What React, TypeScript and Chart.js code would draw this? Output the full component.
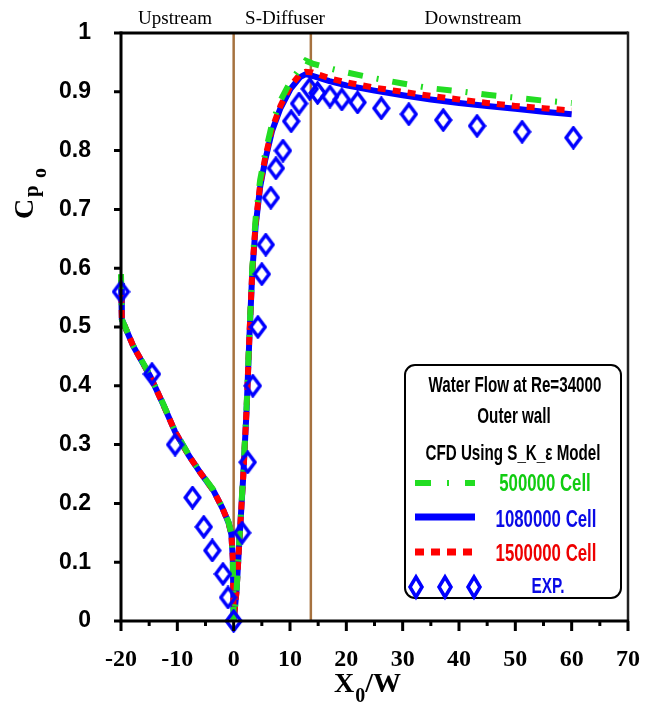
import React, { useEffect, useRef } from "react";
import { Chart, registerables } from "chart.js";

Chart.register(...registerables);

// Axial positions (X0/W) shared by the three CFD grids
const CFD_X = [
  -20, -19.85, -17.8, -14.8, -12.5, -10.4, -8.0, -5.9, -3.6, -2.0, -0.9, -0.4, -0.15, 0,
  0.5, 1.0, 1.7, 2.3, 2.8, 3.3, 3.9, 4.7, 5.6, 6.8, 8.3, 10.1, 11.8, 12.8, 14.0,
  17, 20, 25, 30, 35, 40, 45, 50, 55, 60,
];

// Cpo along the outer wall, 500000 cells
const CP_500K = [
  0.59, 0.513, 0.468, 0.417, 0.369, 0.323, 0.283, 0.253, 0.223, 0.193, 0.168, 0.148, 0.105, 0,
  0.05, 0.136, 0.25, 0.366, 0.49, 0.6, 0.685, 0.75, 0.795, 0.845, 0.885, 0.918, 0.94, 0.953, 0.948,
  0.94, 0.933, 0.923, 0.914, 0.906, 0.901, 0.895, 0.89, 0.885, 0.881,
];

// Cpo along the outer wall, 1080000 cells
const CP_1080K = [
  0.575, 0.513, 0.467, 0.416, 0.368, 0.322, 0.282, 0.252, 0.222, 0.192, 0.167, 0.147, 0.105, 0,
  0.05, 0.134, 0.246, 0.36, 0.484, 0.593, 0.672, 0.738, 0.784, 0.833, 0.872, 0.905, 0.925, 0.93, 0.927,
  0.918, 0.911, 0.902, 0.894, 0.887, 0.881, 0.876, 0.871, 0.866, 0.862,
];

// Cpo along the outer wall, 1500000 cells
const CP_1500K = [
  0.58, 0.513, 0.467, 0.416, 0.368, 0.322, 0.282, 0.252, 0.222, 0.192, 0.167, 0.147, 0.105, 0,
  0.05, 0.134, 0.247, 0.362, 0.486, 0.595, 0.676, 0.742, 0.788, 0.837, 0.876, 0.91, 0.93, 0.934, 0.933,
  0.923, 0.916, 0.907, 0.9, 0.893, 0.887, 0.881, 0.876, 0.872, 0.868,
];

// Measured Cpo (EXP.)
const EXP_X = [
  -20, -14.5, -10.4, -7.3, -5.3, -3.8, -1.9, -1.0, 0, 1.5, 2.5, 3.4, 4.3, 5.0, 5.7, 6.6, 7.5,
  8.75, 10.2, 11.6, 13.5, 14.9, 17.1, 19.2, 22.0, 26.2, 31.1, 37.2, 43.2, 51.2, 60.3,
];
const EXP_Y = [
  0.56, 0.42, 0.3, 0.21, 0.16, 0.12, 0.08, 0.04, 0, 0.15, 0.27, 0.4, 0.5, 0.59, 0.64, 0.72, 0.77,
  0.8, 0.85, 0.88, 0.905, 0.898, 0.892, 0.887, 0.882, 0.872, 0.862, 0.852, 0.842, 0.832, 0.822,
];

// Section boundaries: diffuser inlet and outlet
const SECTION_X = [0, 13.7];
const SECTION_NAMES = ["Upstream", "S-Diffuser", "Downstream"];
const SECTION_LABEL_X = [175, 285, 473];

const LEGEND_HEAD = ["Water Flow at Re=34000", "Outer wall", "CFD Using S_K_\u03b5 Model"];
const SERIES_NAMES = ["500000 Cell", "1080000 Cell", "1500000 Cell", "EXP."];

const GREEN = "#22dd22";
const BLUE = "#0000ff";
const RED = "#ff0000";
const BROWN = "#a6723f";

const SERIF = "'Liberation Serif', 'Times New Roman', serif";
const SANS = "'Liberation Sans', Arial, sans-serif";

function makeDiamond(w: number, h: number, lw: number): HTMLCanvasElement {
  const c = document.createElement("canvas");
  c.width = w;
  c.height = h;
  const g = c.getContext("2d")!;
  g.strokeStyle = BLUE;
  g.lineWidth = lw;
  g.lineJoin = "miter";
  const cx = w / 2;
  const cy = h / 2;
  const hw = w / 2 - lw / 2 - 0.5;
  const hh = h / 2 - lw / 2 - 0.5;
  g.beginPath();
  g.moveTo(cx, cy - hh);
  g.lineTo(cx + hw, cy);
  g.lineTo(cx, cy + hh);
  g.lineTo(cx - hw, cy);
  g.closePath();
  g.stroke();
  return c;
}

function squeezed(
  ctx: CanvasRenderingContext2D,
  text: string,
  cx: number,
  baseline: number,
  font: string,
  color: string,
  sx: number
) {
  ctx.save();
  ctx.font = font;
  ctx.fillStyle = color;
  ctx.textAlign = "center";
  ctx.textBaseline = "alphabetic";
  ctx.translate(cx, baseline);
  ctx.scale(sx, 1);
  ctx.fillText(text, 0, 0);
  ctx.restore();
}

const sectionLines = {
  id: "sectionLines",
  beforeDatasetsDraw(chart: any) {
    const { ctx, chartArea } = chart;
    const xs = chart.scales.x;
    ctx.save();
    ctx.strokeStyle = BROWN;
    ctx.lineWidth = 2.5;
    SECTION_X.forEach((v) => {
      const px = xs.getPixelForValue(v);
      ctx.beginPath();
      ctx.moveTo(px, chartArea.top);
      ctx.lineTo(px, chartArea.bottom);
      ctx.stroke();
    });
    ctx.restore();
  },
};

const frameAndNotes = {
  id: "frameAndNotes",
  afterDraw(chart: any) {
    const { ctx, chartArea } = chart;
    const xs = chart.scales.x;
    const ys = chart.scales.y;
    const { left, right, top, bottom } = chartArea;
    ctx.save();

    // frame: top and right
    ctx.strokeStyle = "#000";
    ctx.lineWidth = 3;
    ctx.beginPath();
    ctx.moveTo(left, top);
    ctx.lineTo(right, top);
    ctx.stroke();
    ctx.strokeStyle = "#222";
    ctx.lineWidth = 2.5;
    ctx.beginPath();
    ctx.moveTo(right, top - 1.5);
    ctx.lineTo(right, bottom);
    ctx.stroke();

    // axes
    ctx.strokeStyle = "#000";
    ctx.lineWidth = 3;
    ctx.beginPath();
    ctx.moveTo(left, top - 1.5);
    ctx.lineTo(left, bottom);
    ctx.moveTo(left - 1.5, bottom);
    ctx.lineTo(right + 1, bottom);
    ctx.stroke();

    // x ticks: majors every 10, minors between
    ctx.beginPath();
    for (let v = -20; v <= 70; v += 5) {
      const px = xs.getPixelForValue(v);
      const len = v % 10 === 0 ? 10 : 5;
      ctx.moveTo(px, bottom);
      ctx.lineTo(px, bottom + len);
    }
    // y ticks every 0.1
    for (let i = 0; i <= 10; i++) {
      const py = ys.getPixelForValue(i / 10);
      ctx.moveTo(left, py);
      ctx.lineTo(left - 7, py);
    }
    ctx.stroke();

    // section names above the frame
    ctx.fillStyle = "#000";
    ctx.font = `19px ${SERIF}`;
    ctx.textAlign = "center";
    ctx.textBaseline = "alphabetic";
    SECTION_NAMES.forEach((s, i) => ctx.fillText(s, SECTION_LABEL_X[i], 24));

    // x axis title: X0/W
    ctx.textAlign = "left";
    ctx.font = `bold 28px ${SERIF}`;
    ctx.fillText("X", 334, 692);
    const wX = ctx.measureText("X").width;
    ctx.font = `bold 20px ${SERIF}`;
    ctx.fillText("0", 334 + wX + 1, 702);
    const w0 = ctx.measureText("0").width;
    ctx.font = `bold 28px ${SERIF}`;
    ctx.fillText("/W", 334 + wX + w0 + 1, 692);

    // y axis title: Cpo (rotated)
    const rot = (t: string, font: string, baseX: number, startY: number) => {
      ctx.save();
      ctx.font = font;
      ctx.translate(baseX, startY);
      ctx.rotate(-Math.PI / 2);
      ctx.fillText(t, 0, 0);
      ctx.restore();
    };
    rot("C", `bold 28px ${SERIF}`, 33, 219);
    rot("p", `bold 21px ${SERIF}`, 38, 197);
    rot("o", `bold 20px ${SERIF}`, 46, 178);

    // legend box
    const bx = 405, by = 365, bw = 216, bh = 233, r = 10;
    ctx.fillStyle = "#fff";
    ctx.strokeStyle = "#000";
    ctx.lineWidth = 2;
    ctx.beginPath();
    ctx.roundRect(bx, by, bw, bh, r);
    ctx.fill();
    ctx.stroke();

    const headFont = `bold 22px ${SANS}`;
    squeezed(ctx, LEGEND_HEAD[0], 515, 392, headFont, "#000", 0.69);
    squeezed(ctx, LEGEND_HEAD[1], 514, 423, headFont, "#000", 0.69);
    squeezed(ctx, LEGEND_HEAD[2], 513, 460, headFont, "#000", 0.69);

    // legend samples
    ctx.lineCap = "butt";
    ctx.lineWidth = 6;
    ctx.strokeStyle = GREEN;
    ctx.setLineDash([16, 16, 2, 16]);
    ctx.beginPath();
    ctx.moveTo(415, 483);
    ctx.lineTo(475, 483);
    ctx.stroke();

    ctx.setLineDash([]);
    ctx.lineWidth = 7;
    ctx.strokeStyle = BLUE;
    ctx.beginPath();
    ctx.moveTo(415, 517);
    ctx.lineTo(475, 517);
    ctx.stroke();

    ctx.setLineDash([9, 7]);
    ctx.lineWidth = 7;
    ctx.strokeStyle = RED;
    ctx.beginPath();
    ctx.moveTo(415, 552);
    ctx.lineTo(475, 552);
    ctx.stroke();
    ctx.setLineDash([]);

    ctx.strokeStyle = BLUE;
    ctx.lineWidth = 3.5;
    [416, 445, 474].forEach((cx) => {
      ctx.beginPath();
      ctx.moveTo(cx, 577);
      ctx.lineTo(cx + 6, 587);
      ctx.lineTo(cx, 597);
      ctx.lineTo(cx - 6, 587);
      ctx.closePath();
      ctx.stroke();
    });

    const rowFont = `bold 24px ${SANS}`;
    squeezed(ctx, SERIES_NAMES[0], 545, 491, rowFont, "#11cc11", 0.7);
    squeezed(ctx, SERIES_NAMES[1], 546, 527, rowFont, "#0a0ae6", 0.7);
    squeezed(ctx, SERIES_NAMES[2], 546, 561, rowFont, "#ee0000", 0.7);
    squeezed(ctx, SERIES_NAMES[3], 548, 593, `bold 22px ${SANS}`, "#0a0ae6", 0.7);

    ctx.restore();
  },
};

export default function App() {
  const canvasRef = useRef<HTMLCanvasElement | null>(null);

  useEffect(() => {
    const canvas = canvasRef.current;
    if (!canvas) return;
    const diamond = makeDiamond(19, 24, 3.5);
    const pts = (ys: number[]) => CFD_X.map((x, i) => ({ x, y: ys[i] }));

    const chart = new Chart(canvas, {
      type: "line",
      data: {
        datasets: [
          {
            label: SERIES_NAMES[3],
            type: "scatter",
            data: EXP_X.map((x, i) => ({ x, y: EXP_Y[i] })),
            pointStyle: diamond as any,
            pointRadius: 10,
            showLine: false,
            order: 0,
            clip: false as any,
          },
          {
            label: SERIES_NAMES[0],
            data: pts(CP_500K),
            borderColor: GREEN,
            borderWidth: 6,
            borderDash: [15, 14, 2, 14],
            pointRadius: 0,
            tension: 0,
            order: 1,
            clip: false as any,
          },
          {
            label: SERIES_NAMES[2],
            data: pts(CP_1500K),
            borderColor: RED,
            borderWidth: 6,
            borderDash: [8, 7],
            pointRadius: 0,
            tension: 0,
            order: 2,
            clip: false as any,
          },
          {
            label: SERIES_NAMES[1],
            data: pts(CP_1080K),
            borderColor: BLUE,
            borderWidth: 6,
            pointRadius: 0,
            tension: 0,
            order: 3,
            clip: false as any,
          },
        ],
      },
      options: {
        animation: false,
        responsive: false,
        devicePixelRatio: 1,
        layout: { padding: { top: 33, right: 22, left: 0, bottom: 0 } },
        plugins: { legend: { display: false }, tooltip: { enabled: false } },
        scales: {
          x: {
            type: "linear",
            min: -20,
            max: 70,
            grid: { display: false },
            border: { display: false },
            ticks: {
              stepSize: 10,
              padding: 16,
              color: "#000",
              font: { family: SERIF, size: 24, weight: "bold" },
              callback: (v: any) => String(v),
            },
            afterFit: (s: any) => {
              s.height = 81;
              s.paddingLeft = 0;
              s.paddingRight = 0;
            },
          },
          y: {
            type: "linear",
            min: 0,
            max: 1,
            grid: { display: false },
            border: { display: false },
            ticks: {
              stepSize: 0.1,
              padding: 22,
              color: "#000",
              font: { family: SANS, size: 23, weight: "bold" },
              callback: (v: any) => String(Number(Number(v).toFixed(1))),
            },
            afterFit: (s: any) => {
              s.width = 121;
              s.paddingTop = 0;
              s.paddingBottom = 0;
            },
          },
        },
      },
      plugins: [sectionLines, frameAndNotes],
    });

    return () => chart.destroy();
  }, []);

  return (
    <div style={{ position: "fixed", left: 0, top: 0, width: 650, height: 702, background: "#fff" }}>
      <canvas ref={canvasRef} width={650} height={702} style={{ display: "block" }} />
    </div>
  );
}
